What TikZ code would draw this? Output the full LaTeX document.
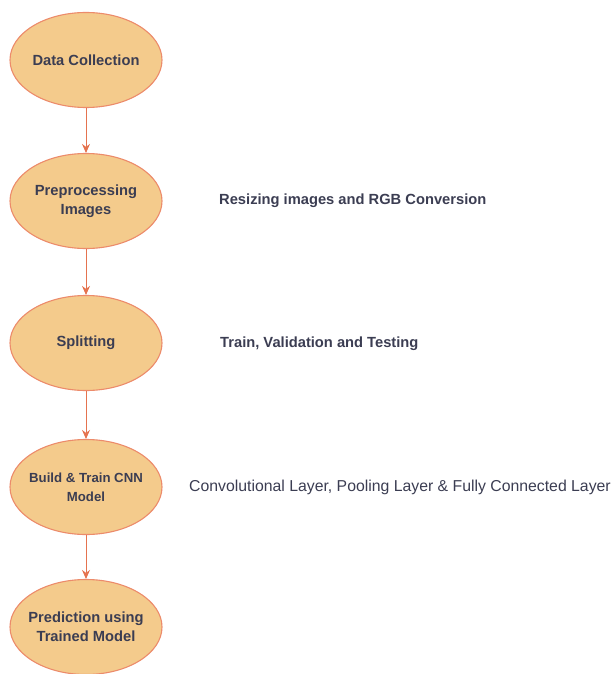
\documentclass[tikz,border=0pt]{standalone}
\usepackage{fontspec}
\setmainfont{Liberation Sans}
\usetikzlibrary{shapes.geometric,arrows.meta}
\definecolor{fillc}{HTML}{F4CB8C}
\definecolor{edgec}{HTML}{EC8B6B}
\definecolor{arrc}{HTML}{E5734F}
\definecolor{txtc}{HTML}{3B3D52}
\tikzset{
  stage/.style={ellipse, draw=edgec, line width=1.1pt, fill=fillc, minimum width=152pt, minimum height=95pt, inner sep=0pt},
  stagetext/.style={align=center, text=txtc, inner sep=0pt, font=\fontsize{14.7}{19}\selectfont\bfseries},
  note/.style={anchor=west, text=txtc, inner sep=0pt, font=\fontsize{14.7}{18}\selectfont\bfseries},
  flow/.style={draw=arrc, line width=0.9pt, -{Stealth[length=9pt,width=8pt]}}
}
\begin{document}
\begin{tikzpicture}[x=1pt,y=-1pt]
\useasboundingbox (0,0) rectangle (611,674);
\node[stage, label={[stagetext]center:Data Collection}] (dc) at (86,60) {};
\node[stage, label={[stagetext]center:Preprocessing\\Images}] (pp) at (86,201) {};
\node[stage, label={[stagetext]center:Splitting}] (sp) at (86,343) {};
\node[stage, label={[stagetext, font=\fontsize{13.2}{19}\selectfont\bfseries]center:Build \& Train CNN\\Model}] (bt) at (86,487) {};
\node[stage, label={[stagetext]center:Prediction using\\Trained Model}] (pr) at (86,627) {};
\node[note] (n1) at (219,201) {Resizing images and RGB Conversion};
\node[note] (n2) at (220,344) {Train, Validation and Testing};
\node[note, font=\fontsize{15.8}{18}\selectfont] (n3) at (189,487) {Convolutional Layer, Pooling Layer \& Fully Connected Layer};
\draw[flow] (dc) -- (pp);
\draw[flow] (pp) -- (sp);
\draw[flow] (sp) -- (bt);
\draw[flow] (bt) -- (pr);
\end{tikzpicture}
\end{document}
